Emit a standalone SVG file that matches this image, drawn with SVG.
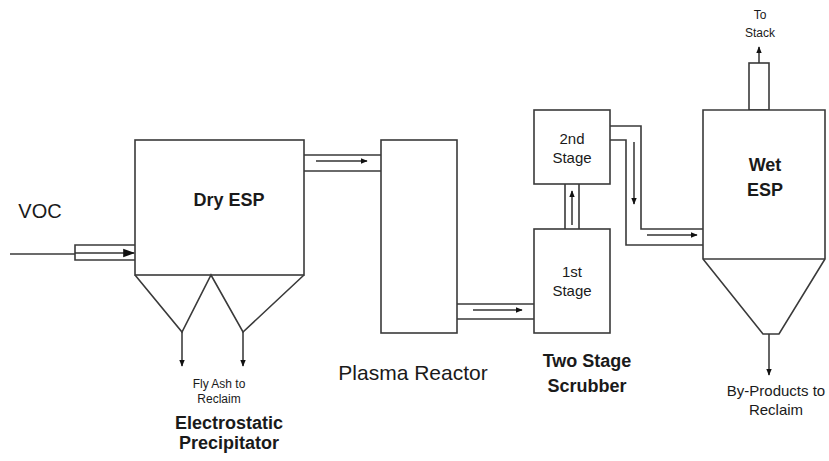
<svg xmlns="http://www.w3.org/2000/svg" width="829" height="461" viewBox="0 0 829 461">
<style>
.box{fill:#fff;stroke:#3a3a3a;stroke-width:1.6}
.ln{fill:none;stroke:#3a3a3a;stroke-width:1.6}
.arr{fill:none;stroke:#333;stroke-width:1.5;marker-end:url(#ah)}
.t{font-family:"Liberation Sans",Arial,sans-serif;fill:#1a1a1a;text-anchor:middle}
.b{font-weight:bold}
</style>
<defs>
<marker id="ah" viewBox="0 0 10 10" refX="9" refY="5" markerWidth="7" markerHeight="7" markerUnits="userSpaceOnUse" orient="auto">
<path d="M0,1 L10,5 L0,9 z" fill="#111"/>
</marker>
<marker id="ahb" viewBox="0 0 10 10" refX="9" refY="5" markerWidth="12" markerHeight="12" markerUnits="userSpaceOnUse" orient="auto">
<path d="M0,1.5 L10,5 L0,8.5 z" fill="#111"/>
</marker>
</defs>
<rect width="829" height="461" fill="#fff"/>

<g id="voc">
<text class="t" x="40" y="218" font-size="20" fill="#222">VOC</text>
</g>

<g id="dry-esp">
<rect class="box" x="135" y="140" width="169" height="135"/>
<path class="ln" d="M135,275 L182,332 L211,275 L243,332 L304,275"/>
<text class="t b" x="229" y="206" font-size="18">Dry ESP</text>
<text class="t" x="219" y="388" font-size="12">Fly Ash to</text>
<text class="t" x="219" y="403" font-size="12">Reclaim</text>
<text class="t b" x="229" y="429" font-size="18">Electrostatic</text>
<text class="t b" x="229" y="449" font-size="18">Precipitator</text>
</g>

<g id="plasma-reactor">
<rect class="box" x="381" y="140" width="76" height="193"/>
<text class="t" x="413" y="380" font-size="21" fill="#333">Plasma Reactor</text>
</g>

<g id="scrubber-1st">
<rect class="box" x="534" y="229" width="76" height="104"/>
<text class="t" x="572" y="277" font-size="15">1st</text>
<text class="t" x="572" y="296" font-size="15">Stage</text>
</g>

<g id="scrubber-2nd">
<rect class="box" x="534" y="110" width="76" height="74"/>
<text class="t" x="572" y="144" font-size="15">2nd</text>
<text class="t" x="572" y="163" font-size="15">Stage</text>
<text class="t b" x="587" y="367" font-size="18">Two Stage</text>
<text class="t b" x="587" y="392" font-size="18">Scrubber</text>
</g>

<g id="wet-esp">
<rect class="box" x="749" y="63" width="20" height="47"/>
<path class="box" d="M703,110 L825,110 L825,259 L779,334 L763,334 L703,259 Z"/>
<line class="ln" x1="703" y1="259" x2="825" y2="259"/>
<text class="t b" x="765" y="171" font-size="18">Wet</text>
<text class="t b" x="765" y="196" font-size="18">ESP</text>
<text class="t" x="760" y="19" font-size="12">To</text>
<text class="t" x="760" y="37" font-size="12">Stack</text>
<text class="t" x="776" y="396" font-size="15">By-Products to</text>
<text class="t" x="776" y="415" font-size="15">Reclaim</text>
</g>

<g id="connectors">
<!-- VOC inlet -->
<line class="ln" x1="10" y1="254" x2="75" y2="254" stroke-width="1.3"/>
<path class="ln" d="M135,245 L75,245 L75,260 L135,260"/>
<line x1="75" y1="253" x2="134" y2="253" stroke="#333" stroke-width="1.3" marker-end="url(#ahb)"/>
<!-- Dry ESP to Plasma -->
<path class="ln" d="M304,155 L381,155 M304,171 L381,171"/>
<line class="arr" x1="316" y1="161" x2="367" y2="161"/>
<!-- Plasma to 1st stage -->
<path class="ln" d="M457,304 L534,304 M457,319 L534,319"/>
<line class="arr" x1="473" y1="310" x2="522" y2="310"/>
<!-- 1st to 2nd stage -->
<path class="ln" d="M565,184 L565,229 M579,184 L579,229"/>
<line class="arr" x1="572" y1="225" x2="572" y2="191"/>
<!-- 2nd stage to Wet ESP -->
<path class="ln" d="M610,126 L641,126 L641,229 L703,229 M610,140 L626,140 L626,245 L703,245"/>
<line class="arr" x1="634" y1="142" x2="634" y2="204"/>
<line class="arr" x1="647" y1="235" x2="697" y2="235"/>
<!-- stack -->
<line class="arr" x1="759" y1="63" x2="759" y2="47"/>
<!-- hopper outlets -->
<line class="arr" x1="182" y1="332" x2="182" y2="366"/>
<line class="arr" x1="243" y1="332" x2="243" y2="366"/>
<line class="arr" x1="769" y1="334" x2="769" y2="375"/>
</g>
</svg>
